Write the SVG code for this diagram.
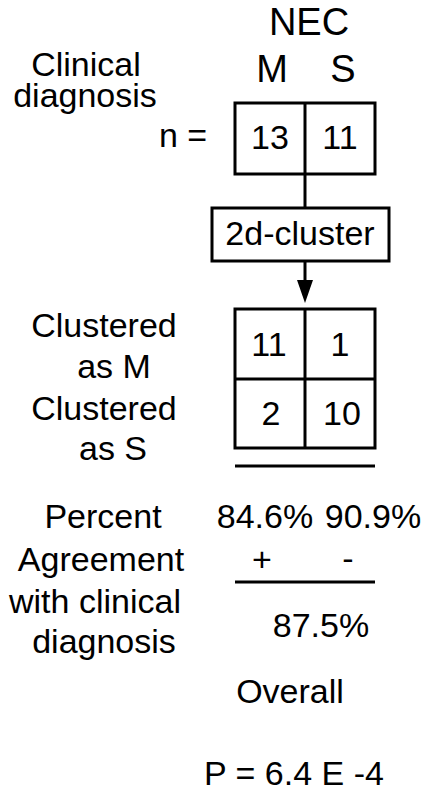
<svg xmlns="http://www.w3.org/2000/svg" width="427" height="791" viewBox="0 0 427 791">
<style>
text{font-family:"Liberation Sans",Arial,sans-serif;font-size:34px;fill:#000;text-anchor:middle}
.big{font-size:38px}
.b{fill:#fff;stroke:#000;stroke-width:3}
.l{stroke:#000;stroke-width:3;fill:none}
</style>
<defs><marker id="ah" markerWidth="23" markerHeight="16" refX="5" refY="8" orient="auto" markerUnits="userSpaceOnUse"><path d="M0,0 L23,8 L0,16 z" fill="#000"/></marker></defs>
<rect width="427" height="791" fill="#fff"/>
<g id="labels">
<text class="big" x="309" y="35">NEC</text>
<text class="big" x="272" y="82">M</text>
<text class="big" x="343" y="82">S</text>
<text x="86" y="76">Clinical</text>
<text x="85" y="107">diagnosis</text>
<text x="183" y="147">n =</text>
<text x="104" y="337">Clustered</text>
<text x="114" y="378">as M</text>
<text x="104" y="420">Clustered</text>
<text x="113" y="460">as S</text>
<text x="103" y="528">Percent</text>
<text x="101" y="571">Agreement</text>
<text x="95" y="613">with clinical</text>
<text x="104" y="653">diagnosis</text>
<text x="265" y="528">84.6%</text>
<text x="373" y="528">90.9%</text>
<text x="262" y="571">+</text>
<text x="348" y="570">-</text>
<text x="321" y="637">87.5%</text>
<text x="290" y="703">Overall</text>
<text x="294" y="785">P = 6.4 E -4</text>
</g>
<g id="connectors">
<line class="l" x1="305" y1="174" x2="305" y2="208"/>
<line class="l" x1="305" y1="261" x2="305" y2="285" marker-end="url(#ah)"/>
<line class="l" x1="235" y1="466" x2="375" y2="466"/>
<line class="l" x1="235" y1="582" x2="375" y2="582"/>
</g>
<g id="clinical">
<rect class="b" x="235" y="103" width="140" height="71"/>
<line class="l" x1="305" y1="103" x2="305" y2="174"/>
<text x="270" y="149">13</text>
<text x="340" y="149">11</text>
</g>
<g id="cluster">
<rect class="b" x="212" y="208" width="177" height="53"/>
<text x="300" y="245">2d-cluster</text>
</g>
<g id="grid">
<rect class="b" x="235" y="309" width="140" height="139"/>
<line class="l" x1="305" y1="309" x2="305" y2="448"/>
<line class="l" x1="235" y1="379" x2="375" y2="379"/>
<text x="269" y="356">11</text>
<text x="340" y="356">1</text>
<text x="271" y="425">2</text>
<text x="342" y="425">10</text>
</g>
</svg>
